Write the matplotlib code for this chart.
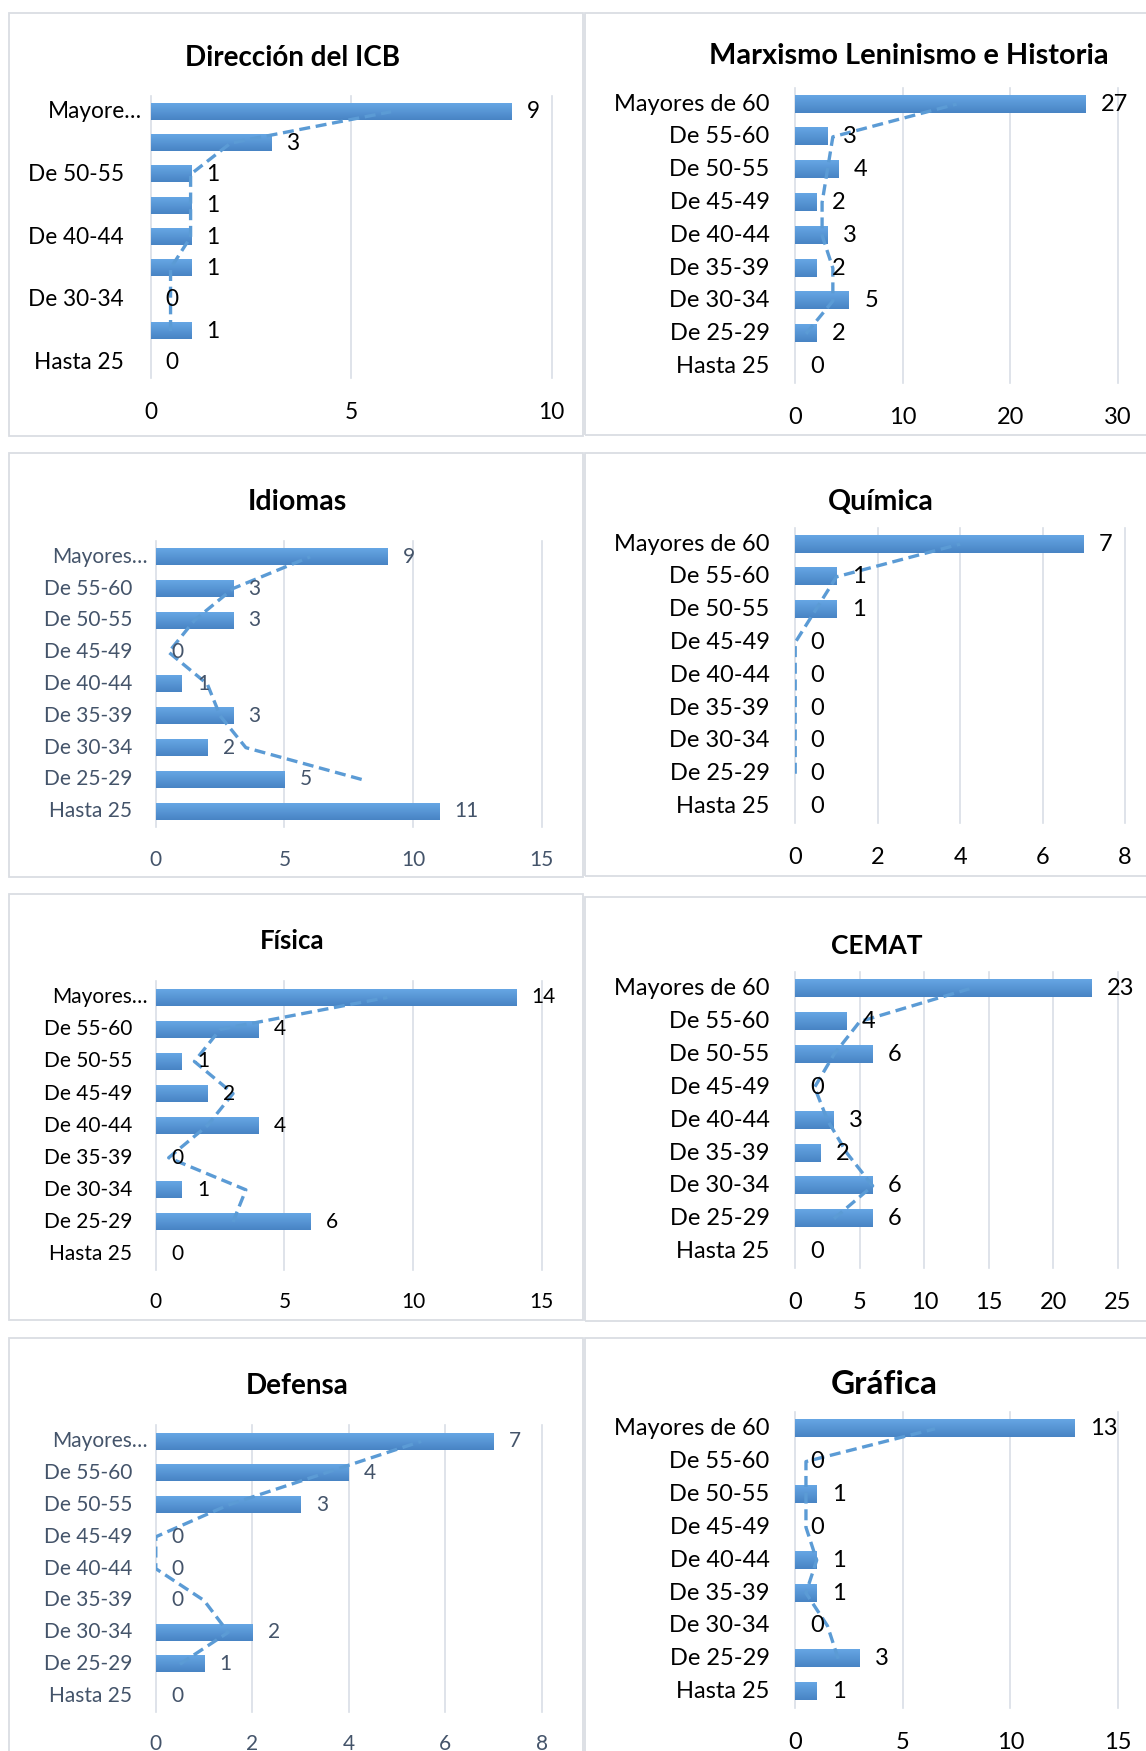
import numpy as np
import matplotlib
matplotlib.use("Agg")
import matplotlib.pyplot as plt
from matplotlib.colors import LinearSegmentedColormap
from matplotlib.patches import Rectangle

plt.rcParams["font.family"] = ["Lato", "DejaVu Sans"]

W, H = 1146, 1751

# categorias de abajo (Hasta 25) hacia arriba (Mayores de 60)
categories = ["Hasta 25", "De 25-29", "De 30-34", "De 35-39", "De 40-44",
              "De 45-49", "De 50-55", "De 55-60", "Mayores de 60"]

direccion = [0, 1, 0, 1, 1, 1, 1, 3, 9]
marxismo = [0, 2, 5, 2, 3, 2, 4, 3, 27]
idiomas = [11, 5, 2, 3, 1, 0, 3, 3, 9]
quimica = [0, 0, 0, 0, 0, 0, 1, 1, 7]
fisica = [0, 6, 1, 0, 4, 2, 1, 4, 14]
cemat = [0, 6, 6, 2, 3, 0, 6, 4, 23]
defensa = [0, 1, 2, 0, 0, 0, 3, 4, 7]
grafica = [1, 3, 0, 1, 1, 0, 1, 0, 13]

BAR_CMAP = LinearSegmentedColormap.from_list("bar", ["#4884C4", "#66A6E4"])
TREND = "#5B9BD5"
GRID = "#D9DEE6"
BORDER = "#DADDE3"
SLATE = "#44546A"

panels = [
    dict(title="Dirección del ICB", values=direccion, xmax=10, step=5,
         box=(9, 13, 583, 436), plot=(150.5, 96, 551.5, 378), title_xy=(292.7, 58),
         tsize=20, fsize=16.3, color="black", lpad=19, top_label="Mayore…", top_pad=6,
         every=2, xpad=17.5),
    dict(title="Marxismo Leninismo e Historia", values=marxismo, xmax=30, step=10,
         box=(585.4, 13, 1150, 435), plot=(795.2, 87.6, 1117.9, 383), title_xy=(909, 56),
         tsize=20.8, fsize=17, color="black", lpad=18.5, top_label=None, top_pad=18.5,
         every=1, xpad=17.5),
    dict(title="Idiomas", values=idiomas, xmax=15, step=5,
         box=(9, 453, 583, 877), plot=(155.8, 540.8, 541.8, 827.2), title_xy=(297, 502),
         tsize=20.5, fsize=15, color=SLATE, lpad=16.8, top_label="Mayores…", top_pad=5.7,
         every=1, xpad=16.5),
    dict(title="Química", values=quimica, xmax=8, step=2,
         box=(585.4, 453, 1150, 876), plot=(795.2, 527.6, 1125.1, 823), title_xy=(880.7, 502),
         tsize=20.5, fsize=17, color="black", lpad=18.5, top_label=None, top_pad=18.5,
         every=1, xpad=17.5),
    dict(title="Física", values=fisica, xmax=15, step=5,
         box=(9, 894, 583, 1320), plot=(155.8, 981.3, 541.8, 1270), title_xy=(292, 941),
         tsize=18.5, fsize=15, color="black", lpad=16.8, top_label="Mayores…", top_pad=5.7,
         every=1, xpad=16),
    dict(title="CEMAT", values=cemat, xmax=25, step=5,
         box=(585.4, 897, 1150, 1321), plot=(795.2, 972.3, 1117.9, 1268), title_xy=(876.8, 946),
         tsize=19, fsize=17, color="black", lpad=18.5, top_label=None, top_pad=18.5,
         every=1, xpad=17.5),
    dict(title="Defensa", values=defensa, xmax=8, step=2,
         box=(9, 1338, 583, 1760), plot=(155.8, 1425.4, 541.8, 1711.9), title_xy=(297.2, 1386),
         tsize=20, fsize=15, color=SLATE, lpad=16.8, top_label="Mayores…", top_pad=5.7,
         every=1, xpad=16),
    dict(title="Gráfica", values=grafica, xmax=15, step=5,
         box=(585.4, 1338, 1150, 1760), plot=(795.2, 1412.3, 1117.9, 1708), title_xy=(884, 1385),
         tsize=24, fsize=17, color="black", lpad=18.5, top_label=None, top_pad=18.5,
         every=1, xpad=17.5),
]


def px_axes(fig, left, top, right, bottom):
    return fig.add_axes([left / W, 1 - bottom / H, (right - left) / W, (bottom - top) / H])


def draw_panel(fig, p):
    l, t, r, b = p["box"]
    fig.patches.append(Rectangle((l / W, 1 - b / H), (r - l) / W, (b - t) / H,
                                 transform=fig.transFigure, fill=False,
                                 edgecolor=BORDER, linewidth=1.3))
    fig.text(p["title_xy"][0] / W, 1 - p["title_xy"][1] / H, p["title"],
             ha="center", va="center", fontsize=p["tsize"], fontweight="bold")

    ax = px_axes(fig, *p["plot"])
    ax.patch.set_visible(False)
    vals = np.array(p["values"], dtype=float)
    y = np.arange(len(categories))

    bars = ax.barh(y, vals, height=0.52, color="#5B9BD5", zorder=2)
    grad = np.linspace(0, 1, 64).reshape(-1, 1)
    for patch in bars:
        if patch.get_width() <= 0:
            continue
        x0, y0 = patch.get_x(), patch.get_y()
        ax.imshow(grad, extent=[x0, x0 + patch.get_width(), y0, y0 + patch.get_height()],
                  origin="lower", cmap=BAR_CMAP, aspect="auto", zorder=2.1)

    # media movil de 2 periodos (linea de tendencia de Excel)
    ma = (vals[:-1] + vals[1:]) / 2
    ax.plot(ma, y[1:], color=TREND, lw=2.4, ls=(0, (3.3, 1.7)), zorder=4,
            dash_capstyle="butt")

    for i, v in enumerate(p["values"]):
        ax.annotate(str(v), xy=(v, i), xytext=(11, 0), textcoords="offset points",
                    ha="left", va="center", fontsize=p["fsize"], color=p["color"], zorder=5)

    n = len(categories)
    for i, cat in enumerate(categories):
        if i % p["every"]:
            continue
        lab, pad = cat, p["lpad"]
        if i == n - 1 and p["top_label"]:
            lab, pad = p["top_label"], p["top_pad"]
        ax.annotate(lab, xy=(0, i), xycoords=("axes fraction", "data"),
                    xytext=(-pad, 0), textcoords="offset points",
                    ha="right", va="center", fontsize=p["fsize"], color=p["color"])

    ax.set_xlim(0, p["xmax"])
    ax.set_ylim(-0.5, n - 0.5)
    ax.set_xticks(np.arange(0, p["xmax"] + p["step"] / 2, p["step"]))
    ax.set_yticks([])
    ax.tick_params(axis="x", length=0, pad=p["xpad"], labelsize=p["fsize"],
                   labelcolor=p["color"])
    ax.grid(axis="x", color=GRID, linewidth=1.2, zorder=0)
    ax.set_axisbelow(True)
    for s in ax.spines.values():
        s.set_visible(False)
    for gl in ax.get_xgridlines():
        gl.set_clip_on(False)


fig = plt.figure(figsize=(W / 100, H / 100), dpi=100)
fig.patch.set_facecolor("white")
for p in panels:
    draw_panel(fig, p)

fig.savefig("out.png", dpi=100, facecolor="white")
